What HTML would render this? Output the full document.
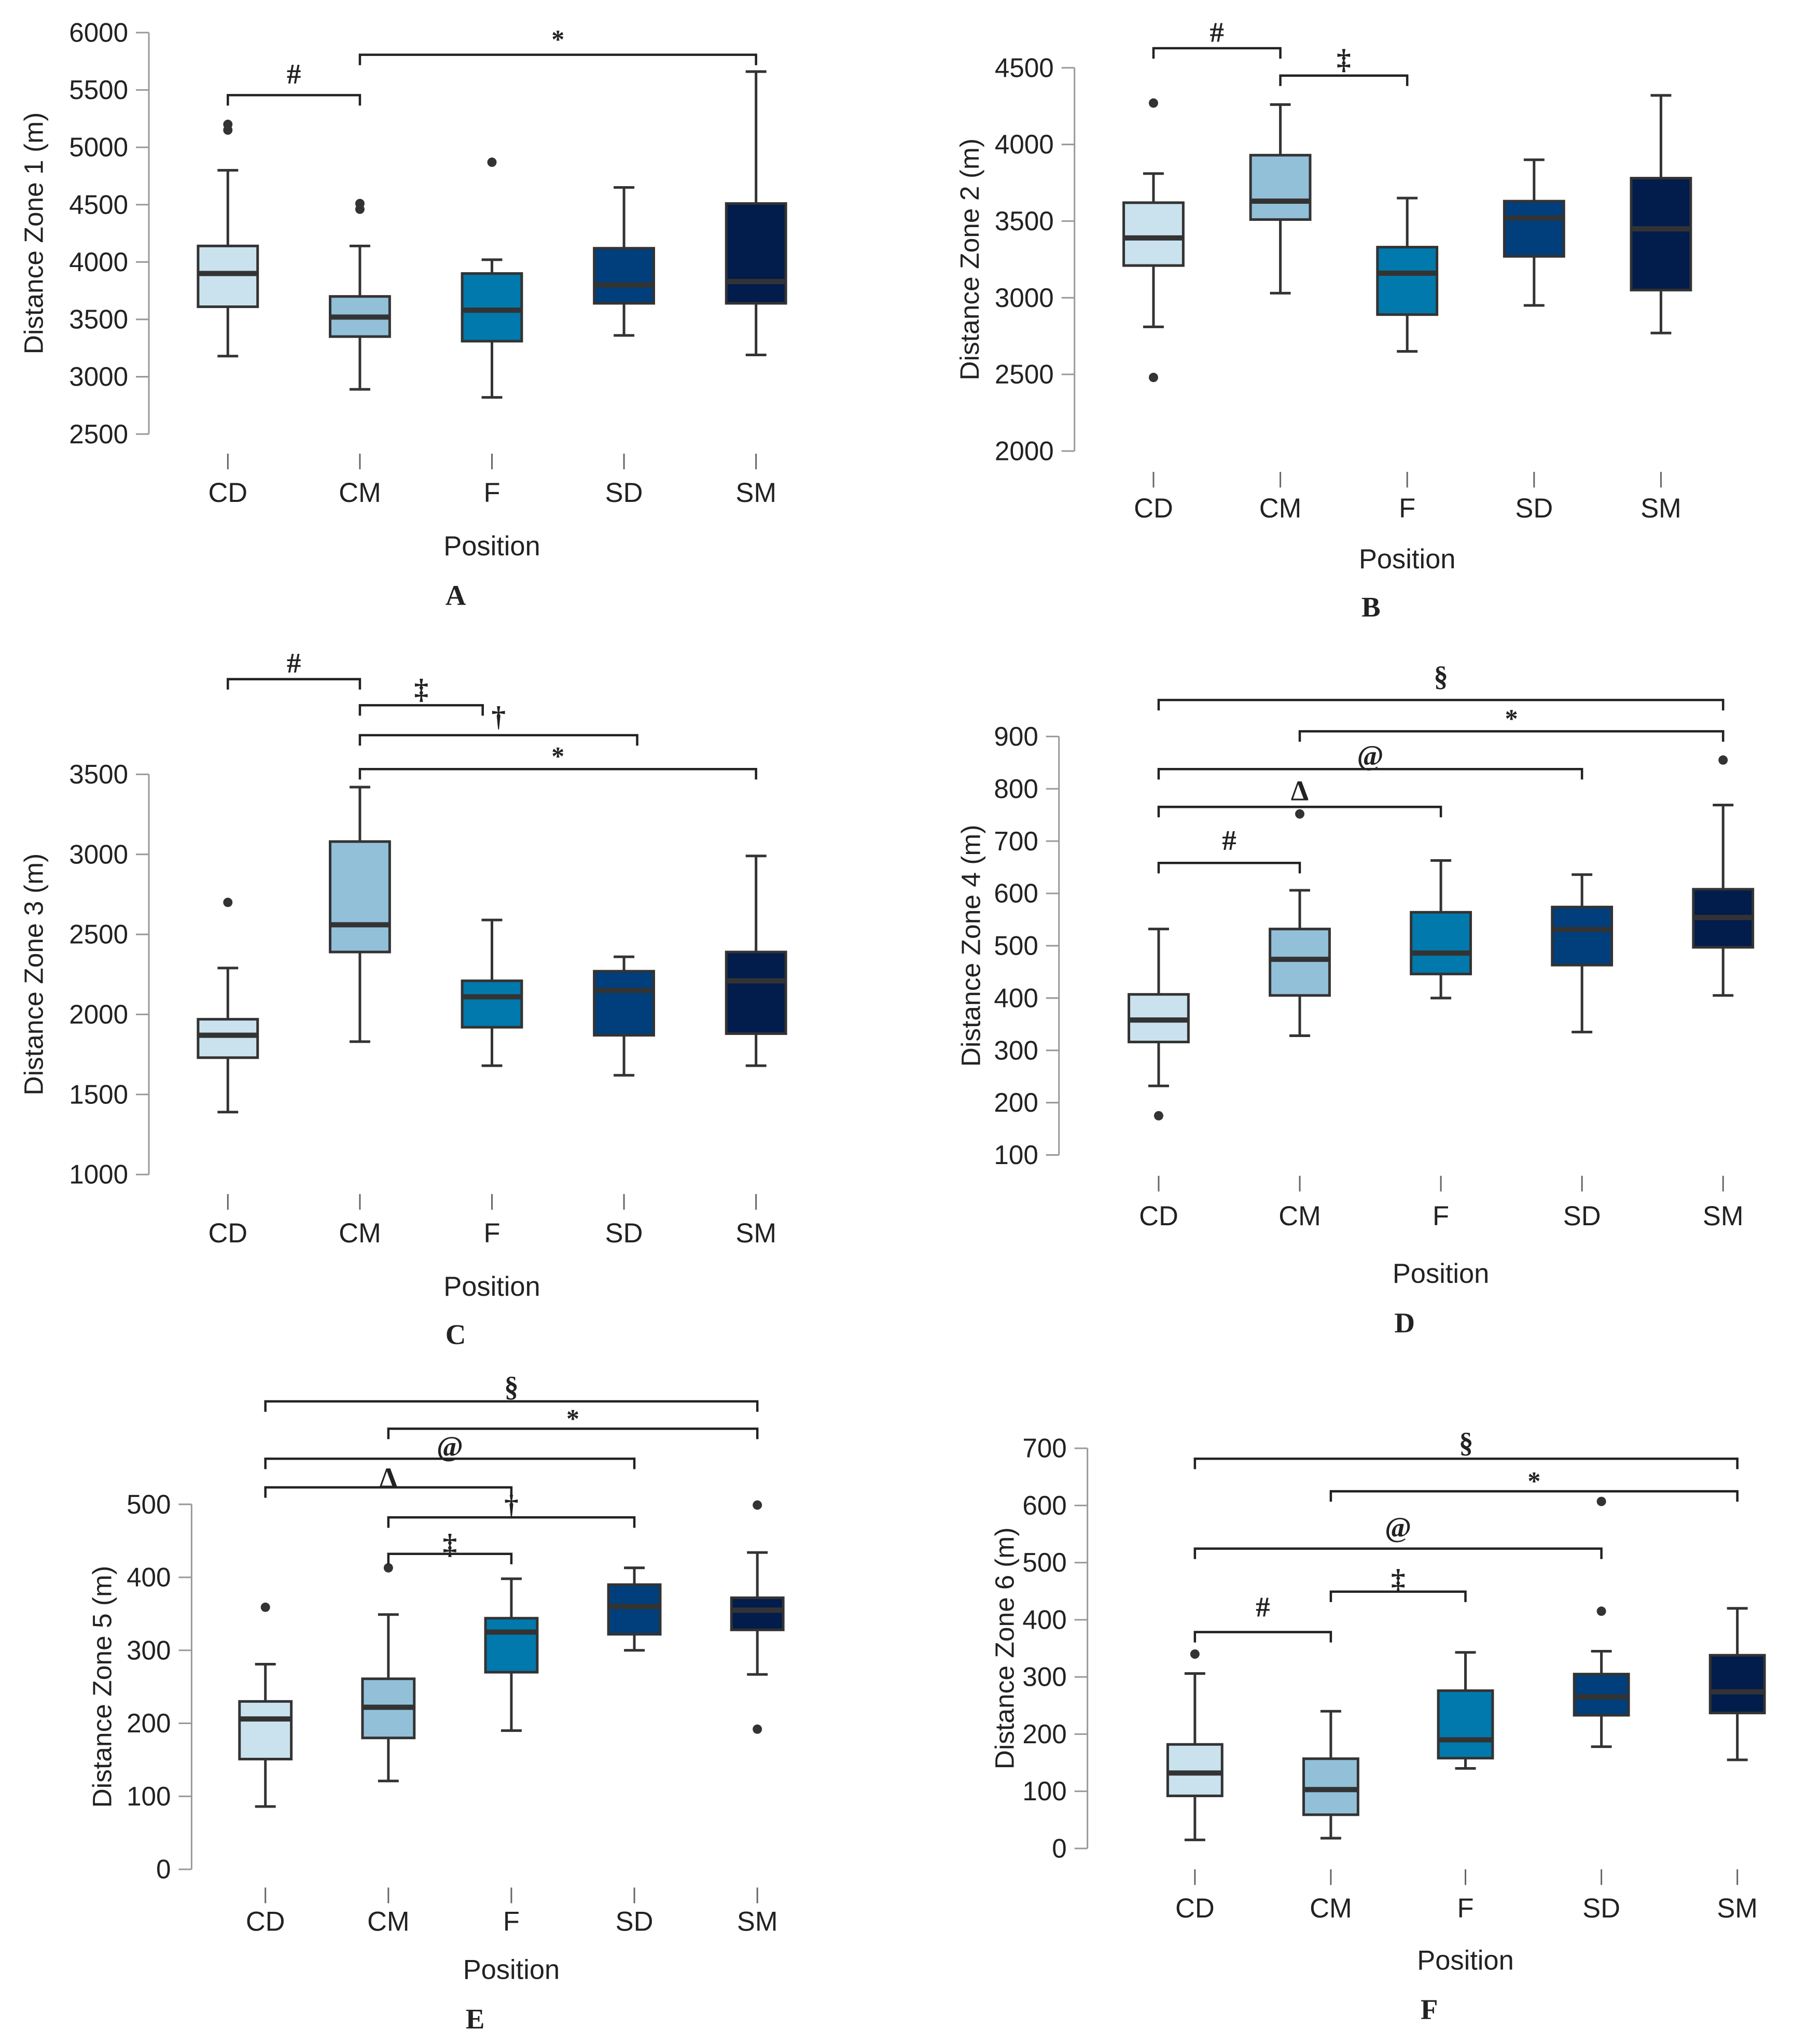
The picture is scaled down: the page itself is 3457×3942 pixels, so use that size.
<!DOCTYPE html>
<html><head><meta charset="utf-8"><style>
html,body{margin:0;padding:0;background:#fff}
svg{display:block}
text{font-family:"Liberation Sans",sans-serif;fill:#222}
.serif{font-family:"Liberation Serif",serif}
</style></head><body>
<svg id="fig" width="3457" height="3942" viewBox="0 0 1385 1568" preserveAspectRatio="none" xmlns="http://www.w3.org/2000/svg"></svg>
<script>
const categories = ["CD","CM","F","SD","SM"];
const colors = ["#c9e2ee","#92c0d9","#0179ac","#013f7c","#021c4c"];
// [min,q1,median,q3,max] per category
const zone1Stats = [[3180,3610,3900,4140,4800],[2890,3350,3520,3700,4140],[2820,3310,3580,3900,4020],[3360,3640,3800,4120,4650],[3190,3640,3830,4510,5660]];
const zone1Out = [[5150,5200],[4460,4510],[4870],[],[]];
const zone1Ticks = [2500,3000,3500,4000,4500,5000,5500,6000];
const zone2Stats = [[2810,3210,3390,3620,3810],[3030,3510,3630,3930,4260],[2650,2890,3160,3330,3650],[2950,3270,3520,3630,3900],[2770,3050,3450,3780,4320]];
const zone2Out = [[4270,2480],[],[],[],[]];
const zone2Ticks = [2000,2500,3000,3500,4000,4500];
const zone3Stats = [[1390,1730,1870,1970,2290],[1830,2390,2560,3080,3420],[1680,1920,2110,2210,2590],[1620,1870,2150,2270,2360],[1680,1880,2210,2390,2990]];
const zone3Out = [[2700],[],[],[],[]];
const zone3Ticks = [1000,1500,2000,2500,3000,3500];
const zone4Stats = [[232,316,358,407,532],[328,405,474,532,606],[400,446,486,564,663],[335,463,531,574,636],[405,497,554,608,769]];
const zone4Out = [[175],[752],[],[],[855]];
const zone4Ticks = [100,200,300,400,500,600,700,800,900];
const zone5Stats = [[86,151,206,230,281],[121,180,222,261,349],[190,270,325,344,398],[300,322,360,390,413],[267,328,355,372,434]];
const zone5Out = [[359],[413],[],[],[499,192]];
const zone5Ticks = [0,100,200,300,400,500];
const zone6Stats = [[15,92,132,182,306],[18,59,103,157,240],[140,158,190,276,343],[178,233,265,305,345],[155,237,274,338,420]];
const zone6Out = [[340],[],[],[415,607],[]];
const zone6Ticks = [0,100,200,300,400,500,600,700];

const NS="http://www.w3.org/2000/svg";
const svg=document.getElementById('fig');
function mk(tag,attrs,parent){const e=document.createElementNS(NS,tag);for(const k in attrs)e.setAttribute(k,attrs[k]);(parent||svg).appendChild(e);return e;}

const panels=[
 {id:"a",title:"Distance Zone 1 (m)",letter:"A",stats:zone1Stats,out:zone1Out,ticks:zone1Ticks,ax:115,yT:25,yB:333,cx:[176,278,380,482,584],bw:46,tickY:348,lblY:385,posY:426,letY:464,ylx:26,
  br:[[0,1,73,"#",57],[1,4,42,"*",30]]},
 {id:"b",title:"Distance Zone 2 (m)",letter:"B",stats:zone2Stats,out:zone2Out,ticks:zone2Ticks,ax:830,yT:52,yB:346,cx:[891,989,1087,1185,1283],bw:46,tickY:362,lblY:397,posY:436,letY:473,ylx:749,
  br:[[0,1,37,"#",25],[1,2,58,"‡",46]]},
 {id:"c",title:"Distance Zone 3 (m)",letter:"C",stats:zone3Stats,out:zone3Out,ticks:zone3Ticks,ax:115,yT:594,yB:901,cx:[176,278,380,482,584],bw:46,tickY:916,lblY:953,posY:994,letY:1031,ylx:26,
  br:[[0,1,521,"#",509],[1,1.93,541,"‡",529],[1,3.1,564,"†",550],[1,4,590,"*",580]]},
 {id:"d",title:"Distance Zone 4 (m)",letter:"D",stats:zone4Stats,out:zone4Out,ticks:zone4Ticks,ax:818,yT:565,yB:886,cx:[895,1004,1113,1222,1331],bw:46,tickY:902,lblY:940,posY:984,letY:1022,ylx:750,
  br:[[0,4,537,"§",519],[1,4,561,"*",551],[0,3,590,"@",580],[0,2,619,"Δ",607],[0,1,662,"#",645]]},
 {id:"e",title:"Distance Zone 5 (m)",letter:"E",stats:zone5Stats,out:zone5Out,ticks:zone5Ticks,ax:148,yT:1154,yB:1434,cx:[205,300,395,490,585],bw:40,tickY:1448,lblY:1481,posY:1518,letY:1556,ylx:79,
  br:[[0,4,1075,"§",1064],[1,4,1096,"*",1088],[0,3,1119,"@",1110],[0,2,1141,"Δ",1134],[1,3,1164,"†",1155],[1,2,1192,"‡",1185]]},
 {id:"f",title:"Distance Zone 6 (m)",letter:"F",stats:zone6Stats,out:zone6Out,ticks:zone6Ticks,ax:840,yT:1111,yB:1418,cx:[923,1028,1132,1237,1342],bw:42,tickY:1434,lblY:1471,posY:1511,letY:1549,ylx:776,
  br:[[0,4,1119,"§",1107],[1,4,1144,"*",1136],[0,3,1188,"@",1172],[1,2,1221,"‡",1212],[0,1,1252,"#",1233]]}
];

panels.forEach(p=>{
  const g=mk('g',{});
  
  
  const t0=p.ticks[0],t1=p.ticks[p.ticks.length-1];
  const y=v=>p.yB-(v-t0)/(t1-t0)*(p.yB-p.yT);
  const xc=i=>{const f=Math.floor(i),r=i-f;return f>=p.cx.length-1?p.cx[p.cx.length-1]:p.cx[f]+r*(p.cx[f+1]-p.cx[f]);};
  const axis=mk('line',{x1:p.ax,x2:p.ax,y1:p.yT,y2:p.yB,stroke:'#999','stroke-width':1.2},g);
  
  
  p.ticks.forEach(tv=>{
    mk('line',{x1:p.ax-10,x2:p.ax,y1:y(tv),y2:y(tv),stroke:'#999','stroke-width':1.2},g);
    const tl=mk('text',{x:p.ax-16,y:y(tv)+7,'text-anchor':'end','font-size':20.5},g);
    tl.textContent=tv;
    
    
  });
  const cy=(p.yT+p.yB)/2;
  const yt=mk('text',{x:p.ylx,y:cy,'text-anchor':'middle','font-size':20.5,transform:`rotate(-90 ${p.ylx} ${cy})`,dy:7},g);
  yt.textContent=p.title;
  
  
  categories.forEach((c,i)=>{
    const x=p.cx[i];
    mk('line',{x1:x,x2:x,y1:p.tickY,y2:p.tickY+12,stroke:'#666','stroke-width':1.2},g);
    const cl=mk('text',{x:x,y:p.lblY,'text-anchor':'middle','font-size':21},g);
    cl.textContent=c;
    
    
    const s=p.stats[i],hw=p.bw/2;
    const bg=mk('g',{},g);
    
    
    mk('line',{x1:x,x2:x,y1:y(s[0]),y2:y(s[1]),stroke:'#333','stroke-width':2},bg);
    mk('line',{x1:x,x2:x,y1:y(s[3]),y2:y(s[4]),stroke:'#333','stroke-width':2},bg);
    mk('line',{x1:x-8,x2:x+8,y1:y(s[0]),y2:y(s[0]),stroke:'#333','stroke-width':2},bg);
    mk('line',{x1:x-8,x2:x+8,y1:y(s[4]),y2:y(s[4]),stroke:'#333','stroke-width':2},bg);
    mk('rect',{x:x-hw,y:y(s[3]),width:p.bw,height:y(s[1])-y(s[3]),fill:colors[i],stroke:'#333','stroke-width':2},bg);
    mk('line',{x1:x-hw,x2:x+hw,y1:y(s[2]),y2:y(s[2]),stroke:'#333','stroke-width':4},bg);
    p.out[i].forEach(o=>{
      const d=mk('circle',{cx:x,cy:y(o),r:3.6,fill:'#333'},bg);
      
      
    });
  });
  const pt=mk('text',{x:p.cx[2],y:p.posY,'text-anchor':'middle','font-size':21},g);
  pt.textContent='Position';
  
  
  const lt=mk('text',{x:p.cx[2]-28,y:p.letY,'text-anchor':'middle','font-size':22,'font-weight':'bold',class:'serif'},g);
  lt.textContent=p.letter;
  
  
  p.br.forEach(b=>{
    const x1=xc(b[0]),x2=xc(b[1]),by=b[2];
    const bk=mk('path',{d:`M${x1} ${by+8}V${by}H${x2}V${by+8}`,fill:'none',stroke:'#222','stroke-width':1.8},g);
    
    
    const st=mk('text',{x:(x1+x2)/2,y:b[4]+7,'text-anchor':'middle','font-size':(b[3]==='*'?20:22),'font-weight':'bold',class:'serif'},g);
    st.textContent=b[3];
    
    
  });
});
</script>
</body></html>
